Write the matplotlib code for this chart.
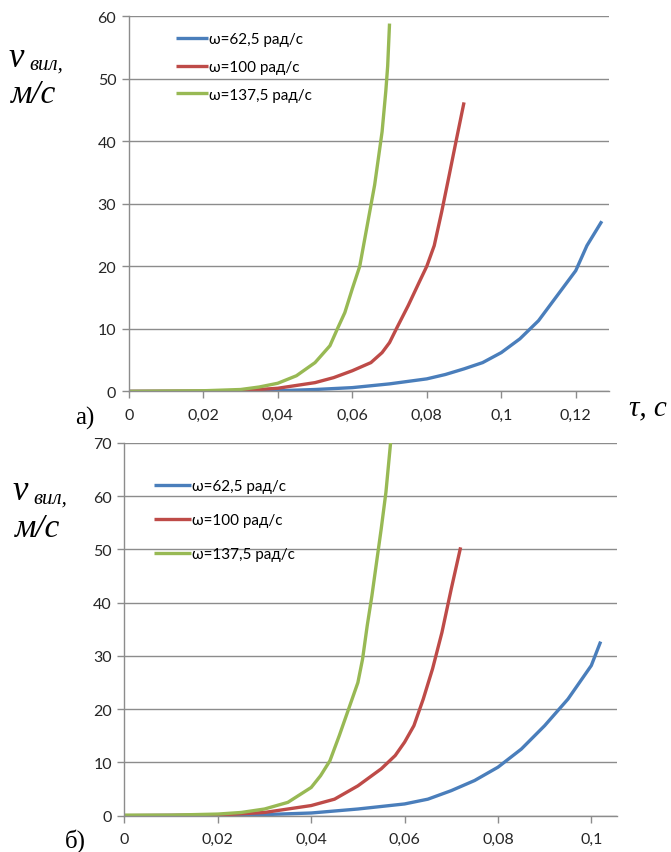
import matplotlib.pyplot as plt

plt.rcParams['font.family'] = ['Lato', 'Liberation Sans', 'DejaVu Sans']

# ---- panel a) ----
a_t_blue = [0, 0.02, 0.04, 0.05, 0.06, 0.07, 0.08, 0.085, 0.09, 0.095, 0.1, 0.105, 0.11,
            0.115, 0.12, 0.123, 0.127]
a_v_blue = [0, 0.02, 0.1, 0.3, 0.6, 1.2, 2.0, 2.7, 3.6, 4.6, 6.2, 8.4, 11.3,
            15.3, 19.3, 23.3, 27.2]

a_t_red = [0, 0.02, 0.03, 0.04, 0.05, 0.055, 0.06, 0.065, 0.068, 0.07, 0.072, 0.075, 0.078,
           0.08, 0.082, 0.084, 0.086, 0.088, 0.09]
a_v_red = [0, 0.03, 0.1, 0.5, 1.4, 2.2, 3.3, 4.6, 6.2, 7.8, 10.2, 13.7, 17.5,
           20.0, 23.3, 28.7, 34.5, 40.4, 46.2]

a_t_green = [0, 0.01, 0.02, 0.03, 0.035, 0.04, 0.045, 0.05, 0.054, 0.056, 0.058, 0.06, 0.062,
             0.064, 0.066, 0.068, 0.069, 0.0695, 0.07]
a_v_green = [0, 0.05, 0.1, 0.3, 0.7, 1.3, 2.5, 4.6, 7.3, 10.0, 12.6, 16.4, 20.0,
             26.5, 33.0, 41.5, 48.0, 52.0, 58.8]

# ---- panel б) ----
b_t_blue = [0, 0.02, 0.03, 0.04, 0.05, 0.06, 0.065, 0.07, 0.075, 0.08, 0.085, 0.09,
            0.095, 0.1, 0.102]
b_v_blue = [0, 0.1, 0.2, 0.5, 1.25, 2.2, 3.1, 4.7, 6.6, 9.1, 12.5, 16.9,
            21.9, 28.2, 32.7]

b_t_red = [0, 0.02, 0.03, 0.04, 0.045, 0.05, 0.055, 0.058, 0.06, 0.062, 0.064, 0.066,
           0.068, 0.07, 0.072]
b_v_red = [0, 0.1, 0.6, 1.9, 3.1, 5.6, 8.8, 11.3, 13.8, 16.9, 21.9, 27.6,
           34.4, 42.6, 50.4]

b_t_green = [0, 0.01, 0.02, 0.025, 0.03, 0.035, 0.04, 0.042, 0.044, 0.046, 0.048, 0.05, 0.051,
             0.052, 0.053, 0.054, 0.055, 0.056, 0.057]
b_v_green = [0.1, 0.1, 0.3, 0.6, 1.25, 2.5, 5.3, 7.5, 10.3, 15.0, 20.0, 25.0, 29.4,
             35.7, 41.3, 47.6, 53.9, 60.7, 70.0]

labels = ['ω=62,5 рад/с', 'ω=100 рад/с', 'ω=137,5 рад/с']
colors = ['#4A7EBB', '#BE4B48', '#98B954']

a_xticks = [0, 0.02, 0.04, 0.06, 0.08, 0.1, 0.12]
a_xticklabels = ['0', '0,02', '0,04', '0,06', '0,08', '0,1', '0,12']
a_yticks = [0, 10, 20, 30, 40, 50, 60]

b_xticks = [0, 0.02, 0.04, 0.06, 0.08, 0.1]
b_xticklabels = ['0', '0,02', '0,04', '0,06', '0,08', '0,1']
b_yticks = [0, 10, 20, 30, 40, 50, 60, 70]

GRID = '#8C8C8C'


def style_axes(ax, xticks, xticklabels, yticks, xmax, ymax):
    ax.set_xlim(0, xmax)
    ax.set_ylim(0, ymax)
    ax.set_xticks(xticks)
    ax.set_xticklabels(xticklabels)
    ax.set_yticks(yticks)
    ax.yaxis.grid(True, color=GRID, linewidth=1.0)
    ax.set_axisbelow(True)
    for side in ['top', 'right']:
        ax.spines[side].set_visible(False)
    for side in ['left', 'bottom']:
        ax.spines[side].set_color(GRID)
        ax.spines[side].set_linewidth(1.0)
    ax.tick_params(axis='both', direction='out', length=5, width=1.0, color=GRID,
                   labelsize=11.5, labelcolor='#262626')
    ax.tick_params(axis='x', pad=7)
    ax.tick_params(axis='y', pad=4)


def draw_curves(ax, series):
    for (t, v), color, label in zip(series, colors, labels):
        ax.plot(t, v, color=color, lw=2.4, label=label,
                solid_joinstyle='round', solid_capstyle='butt')


fig = plt.figure(figsize=(6.71, 8.53), dpi=100)

ax1 = fig.add_axes([0.192, 0.540, 0.716, 0.440])
draw_curves(ax1, [(a_t_blue, a_v_blue), (a_t_red, a_v_red), (a_t_green, a_v_green)])
style_axes(ax1, a_xticks, a_xticklabels, a_yticks, 0.129, 60)
ax1.legend(loc='upper left', bbox_to_anchor=(0.262, 0.961), bbox_transform=fig.transFigure,
           frameon=False, fontsize=11, handlelength=2.1, handletextpad=0.1,
           labelspacing=0.9, borderaxespad=0, borderpad=0)

ax2 = fig.add_axes([0.1855, 0.0426, 0.734, 0.4369])
draw_curves(ax2, [(b_t_blue, b_v_blue), (b_t_red, b_v_red), (b_t_green, b_v_green)])
style_axes(ax2, b_xticks, b_xticklabels, b_yticks, 0.1055, 70)
ax2.legend(loc='upper left', bbox_to_anchor=(0.2295, 0.437), bbox_transform=fig.transFigure,
           frameon=False, fontsize=11, handlelength=2.4, handletextpad=0.1,
           labelspacing=1.3, borderaxespad=0, borderpad=0)

serif = ['Liberation Serif', 'DejaVu Serif']

# axis captions, panel a)
fig.text(0.012, 0.921, 'v', fontsize=25, style='italic', family=serif, va='baseline')
fig.text(0.044, 0.918, 'вил,', fontsize=15, style='italic', family=serif, va='baseline')
fig.text(0.016, 0.879, 'м/с', fontsize=24, style='italic', family=serif, va='baseline')
fig.text(0.937, 0.513, 'τ, с', fontsize=21, style='italic', family=serif, va='baseline')
fig.text(0.112, 0.502, 'а)', fontsize=18, family=serif, va='baseline')

# axis captions, panel б)
fig.text(0.018, 0.414, 'v', fontsize=25, style='italic', family=serif, va='baseline')
fig.text(0.050, 0.410, 'вил,', fontsize=15, style='italic', family=serif, va='baseline')
fig.text(0.022, 0.370, 'м/с', fontsize=24, style='italic', family=serif, va='baseline')
fig.text(0.097, 0.006, 'б)', fontsize=18, family=serif, va='baseline')

fig.savefig('out.png', dpi=100, facecolor='white')
